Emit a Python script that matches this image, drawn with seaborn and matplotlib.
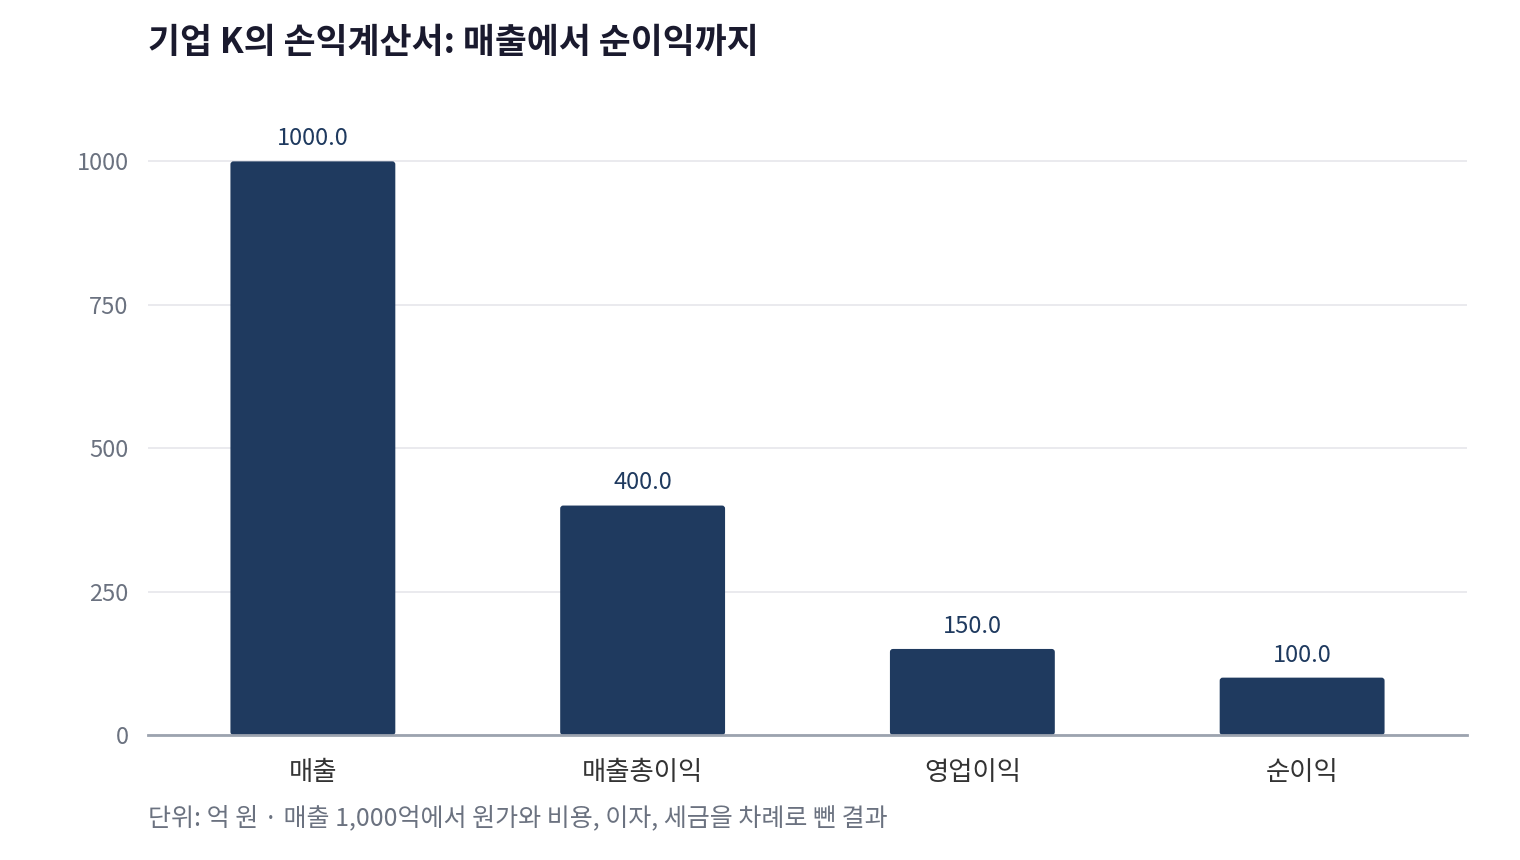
import matplotlib
matplotlib.use("Agg")
import matplotlib.pyplot as plt
from matplotlib.patches import FancyBboxPatch
import seaborn as sns
import pandas as pd

categories = ["매출", "매출총이익", "영업이익", "순이익"]
values = [1000.0, 400.0, 150.0, 100.0]
yticks = [0, 250, 500, 750, 1000]

sns.set_theme(style="white")
plt.rcParams['font.family'] = ['Noto Sans CJK KR', 'DejaVu Sans']

df = pd.DataFrame({"항목": categories, "값": values})

fig = plt.figure(figsize=(15.2, 8.6), dpi=100)
ax = fig.add_axes([148/1520, 1-735/860, (1467-148)/1520, (735-104)/860])

sns.barplot(data=df, x="항목", y="값", color="#1f3a5f", width=0.5, ax=ax,
            saturation=1, edgecolor="none")

ax.set_xlim(-0.5, 3.5)
ax.set_ylim(0, 1100)

# round bar corners slightly
px_per_x = (1467-148) / 4.0
px_per_y = (735-104) / 1100.0
r = 3.0 / px_per_x
aspect = (3.0 / px_per_y) / r
for p in list(ax.patches):
    x, y = p.get_x(), p.get_y()
    w, h = p.get_width(), p.get_height()
    fb = FancyBboxPatch((x, y), w, h,
                        boxstyle=f"round,pad=0,rounding_size={r}",
                        mutation_aspect=aspect,
                        facecolor=p.get_facecolor(), edgecolor="none", zorder=p.get_zorder())
    p.set_visible(False)
    ax.add_patch(fb)

ax.set_yticks(yticks)
ax.set_yticklabels([str(t) for t in yticks], fontsize=17, color="#6b7280")
ax.tick_params(axis='x', labelsize=19, colors="#333333", pad=17, length=0)
ax.tick_params(axis='y', length=0, pad=14)
ax.set_xlabel("")
ax.set_ylabel("")
ax.grid(axis='y', color="#e6e6eb", linewidth=1.2)
ax.set_axisbelow(True)
for s in ["top", "right", "left"]:
    ax.spines[s].set_visible(False)
ax.spines["bottom"].set_color("#9ca3af")
ax.spines["bottom"].set_linewidth(2)
ax.spines["bottom"].set_zorder(5)

for c in ax.containers:
    ax.bar_label(c, labels=[f"{v:.1f}" for v in values], padding=8,
                 fontsize=17, color="#1f3a5f", fontweight="medium")

fig.text(148/1520, 1-42/860, "기업 K의 손익계산서: 매출에서 순이익까지", fontsize=25,
         fontweight="bold", color="#1a1a2e", va="center", ha="left")
fig.text(148/1520, 1-818/860, "단위: 억 원 · 매출 1,000억에서 원가와 비용, 이자, 세금을 차례로 뺀 결과",
         fontsize=18, color="#6b7280", va="center", ha="left")

fig.savefig("out.png", dpi=100)
